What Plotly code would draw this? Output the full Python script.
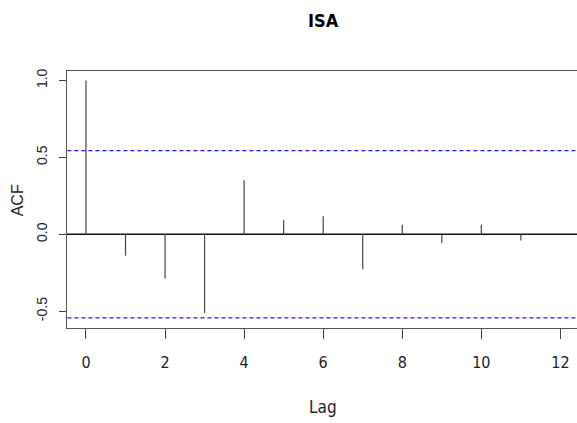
import plotly.graph_objects as go

lags = [0, 1, 2, 3, 4, 5, 6, 7, 8, 9, 10, 11, 12]
acf = [1.0, -0.139, -0.288, -0.512, 0.352, 0.093, 0.117, -0.227, 0.062, -0.056, 0.062, -0.041, 0.0]
n_obs = 13
clim = 1.96 / n_obs ** 0.5
title = "ISA"
x_ticks = [0, 2, 4, 6, 8, 10, 12]
y_ticks = [-0.5, 0.0, 0.5, 1.0]
y_ticktext = ["-0.5", "0.0", "0.5", "1.0"]

W, H = 577, 423
L, R, T, B = 67, 0, 71, 95

fig = go.Figure()

# zero line
fig.add_trace(go.Scatter(x=[-1, 14], y=[0, 0], mode="lines",
                         line=dict(color="#111111", width=1.5),
                         hoverinfo="skip", showlegend=False))

# acf spikes
xs, ys = [], []
for lg, v in zip(lags, acf):
    xs += [lg, lg, None]
    ys += [0, v, None]
fig.add_trace(go.Scatter(x=xs, y=ys, mode="lines",
                         line=dict(color="#444444", width=1.2),
                         showlegend=False))

# confidence limits
for c in (clim, -clim):
    fig.add_trace(go.Scatter(x=[-1, 14], y=[c, c], mode="lines",
                             line=dict(color="#1a1aff", width=1.2, dash="4px,3px"),
                             hoverinfo="skip", showlegend=False))

narrow = "DejaVu Sans Condensed, Liberation Sans Narrow, Arial Narrow, Liberation Sans, sans-serif"
regular = "Liberation Sans, Arial, sans-serif"

fig.update_layout(
    width=W, height=H,
    margin=dict(l=L, r=R, t=T, b=B, autoexpand=False),
    paper_bgcolor="white", plot_bgcolor="white",
    xaxis=dict(range=[-0.48, 12.42], tickvals=x_ticks, showgrid=False, zeroline=False,
               showline=True, mirror=True, linecolor="#555555", linewidth=1.2,
               ticks="outside", ticklen=10, tickcolor="#444444", tickwidth=1,
               tickfont=dict(family=narrow, size=16, color="#222222"),
               ticklabelstandoff=10),
    yaxis=dict(range=[-0.609, 1.0616], tickvals=y_ticks, ticktext=y_ticktext,
               showgrid=False, zeroline=False,
               showline=True, mirror=False, linecolor="#555555", linewidth=1.2,
               ticks="outside", ticklen=7, tickcolor="#444444", tickwidth=1,
               tickangle=-90,
               tickfont=dict(family=regular, size=14, color="#222222"),
               ticklabelstandoff=6),
    annotations=[
        dict(text="<b>" + title + "</b>", x=0.502, y=1.197, xref="paper", yref="paper",
             showarrow=False, xanchor="center", yanchor="middle",
             font=dict(family=narrow, size=18, color="black")),
        dict(text="Lag", x=0.502, y=-0.3055, xref="paper", yref="paper",
             showarrow=False, xanchor="center", yanchor="middle",
             font=dict(family=narrow, size=17, color="#222222")),
        dict(text="ACF", x=-0.0974, y=0.498, xref="paper", yref="paper",
             showarrow=False, xanchor="center", yanchor="middle", textangle=-90,
             font=dict(family=regular, size=16, color="#222222")),
    ],
)

fig.write_html("out.html", config={"displayModeBar": False},
               post_script="document.body.style.margin='0';document.body.style.overflow='hidden';")
